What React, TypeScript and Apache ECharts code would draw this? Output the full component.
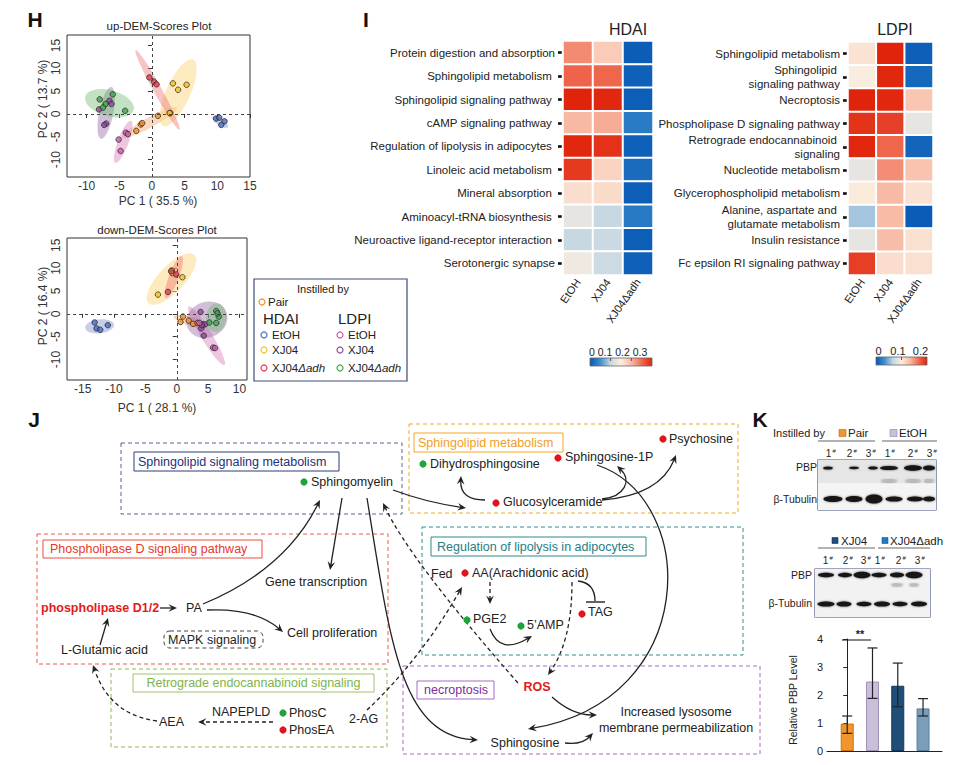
import React, { useEffect, useRef } from 'react';
import * as echarts from 'echarts';

const FONT = '"Liberation Sans", Arial, Helvetica, sans-serif';

// ---------------- Panel H data ----------------
const GROUP_NAMES = ['Pair', 'HDAI EtOH', 'HDAI XJ04', 'HDAI XJ04Δadh', 'LDPI EtOH', 'LDPI XJ04', 'LDPI XJ04Δadh'];
const GROUP_COLORS = ['#F28C28', '#4A6CC0', '#F5C21B', '#E8384F', '#C95BB5', '#8A4A9C', '#3BA54A'];
const ELLIPSE_FILLS = [
  'rgba(247,168,105,0.45)', 'rgba(128,146,206,0.45)', 'rgba(253,214,128,0.5)', 'rgba(238,112,112,0.42)',
  'rgba(214,120,178,0.42)', 'rgba(150,100,165,0.42)', 'rgba(110,185,110,0.42)',
];

// [PC1, PC2, group]
const UP_POINTS = [
  [-2.4, -3.7, 0], [-1.7, -2.3, 0], [-1.5, -2.0, 0], [0.9, -0.4, 0], [2.8, 0.2, 0],
  [9.8, -1.0, 1], [10.3, -0.8, 1], [11.1, -1.6, 1], [10.6, -2.4, 1],
  [3.2, 6.7, 2], [4.0, 5.3, 2], [5.3, 6.4, 2], [2.7, 0.2, 2],
  [-0.4, 8.0, 3], [0.3, 7.1, 3], [0.7, 6.5, 3],
  [-5.1, -5.6, 4], [-4.8, -8.1, 4], [-4.0, -4.1, 4], [-3.7, -4.4, 4],
  [-6.5, 2.9, 5], [-6.2, 2.2, 5], [-8.1, 1.0, 5], [-7.0, -2.1, 5], [-7.3, -2.4, 5],
  [-8.0, 3.2, 6], [-7.1, 2.2, 6], [-6.0, 4.3, 6], [-4.1, 0.7, 6], [-7.5, 1.4, 6],
];
// [x1, y1, x2, y2 (major axis ends), minor/major ratio, group]
const UP_ELLIPSES = [
  [-4.6, -5.2, 3.8, 1.4, 0.16, 0],
  [9.3, -0.6, 11.6, -2.9, 0.38, 1],
  [6.3, 11.9, 1.7, -2.6, 0.33, 2],
  [-2.5, 14.0, 4.2, -3.4, 0.09, 3],
  [-3.2, -1.5, -5.6, -10.7, 0.24, 4],
  [-6.2, 5.9, -7.8, -5.4, 0.27, 5],
  [-10.2, 3.8, -2.8, 0.9, 0.52, 6],
];
const DOWN_POINTS = [
  [-13.1, -1.9, 1], [-12.8, -3.2, 1], [-12.2, -3.5, 1], [-11.0, -2.5, 1],
  [-3.0, 4.2, 2], [-0.8, 9.5, 2], [-0.7, 8.9, 2], [0.9, 8.0, 2],
  [-1.4, 4.8, 3], [-0.1, 8.6, 3], [-0.9, 9.3, 3],
  [1.0, -0.6, 0], [0.6, -1.8, 0], [1.9, -1.5, 0], [2.6, -2.2, 0], [3.3, -2.0, 0], [4.1, -2.3, 0],
  [3.8, 0.4, 5], [3.9, -3.2, 5], [4.3, -4.8, 5], [4.5, -2.3, 5], [4.0, -2.5, 5],
  [5.8, -7.4, 4], [6.1, -7.5, 4], [3.6, -2.0, 4],
  [6.3, 0.6, 6], [6.7, -0.6, 6], [5.2, -1.9, 6], [6.3, -2.0, 6], [6.5, 0.1, 6],
];
const DOWN_ELLIPSES = [
  [-14.6, -3.1, -10.0, -2.4, 0.48, 1],
  [-4.5, 2.3, 2.8, 12.9, 0.39, 2],
  [-1.75, 3.4, 0.8, 12.6, 0.22, 3],
  [-0.5, -0.6, 5.0, -2.8, 0.25, 0],
  [1.9, 1.6, 7.6, -11.2, 0.16, 4],
  [1.7, -3.0, 7.9, 0.4, 0.85, 5],
  [6.5, 2.3, 6.1, -4.0, 0.7, 6],
];
const UP_X_TICKS = [-10, -5, 0, 5, 10, 15];
const UP_Y_TICKS = [-10, -5, 0, 5, 10, 15];
const DOWN_X_TICKS = [-15, -10, -5, 0, 5, 10];
const DOWN_Y_TICKS = [-10, -5, 0, 5, 10, 15];

// ---------------- Panel I data ----------------
const HEAT_GROUPS = ['EtOH', 'XJ04', 'XJ04Δadh'];
const HDAI_PATHWAYS = [
  'Protein digestion and absorption', 'Sphingolipid metabolism ', 'Sphingolipid signaling pathway ',
  'cAMP signaling pathway ', 'Regulation of lipolysis in adipocytes ', 'Linoleic acid metabolism ',
  'Mineral absorption ', 'Aminoacyl-tRNA biosynthesis ', 'Neuroactive ligand-receptor interaction ', 'Serotonergic synapse',
];
const HDAI_VALUES = [
  [0.23, 0.183, 0.005], [0.255, 0.252, 0.008], [0.3, 0.298, 0.006], [0.2, 0.208, 0.032], [0.298, 0.29, 0.008],
  [0.285, 0.175, 0.018], [0.165, 0.168, 0.006], [0.13, 0.1, 0.03], [0.1, 0.103, 0.006], [0.138, 0.104, 0.008],
];
const LDPI_PATHWAYS = [
  'Sphingolipid metabolism', 'Sphingolipid \nsignaling pathway', 'Necroptosis', 'Phospholipase D signaling pathway',
  'Retrograde endocannabinoid \nsignaling', 'Nucleotide metabolism', 'Glycerophospholipid metabolism',
  'Alanine, aspartate and \nglutamate metabolism', 'Insulin resistance', 'Fc epsilon RI signaling pathway',
];
const LDPI_VALUES = [
  [0.107, 0.2, 0.005], [0.098, 0.198, 0.01], [0.2, 0.198, 0.125], [0.193, 0.186, 0.087], [0.198, 0.168, 0.008],
  [0.087, 0.152, 0.127], [0.102, 0.133, 0.108], [0.058, 0.132, 0.003], [0.087, 0.131, 0.109], [0.187, 0.111, 0.109],
];
const HDAI_MAX = 0.3;
const LDPI_MAX = 0.2;
const HEAT_COLORS = ['#0557B3', '#3F8FD0', '#C8D8E3', '#FBEEDF', '#F8B9A4', '#EF6A50', '#E0240B'];

// ---------------- Panel K data ----------------
const BAR_GROUPS = ['Pair', 'EtOH', 'XJ04', 'XJ04Δadh'];
const BAR_MEANS = [0.98, 2.48, 2.33, 1.52];
const BAR_LOW = [0.63, 1.88, 1.58, 1.25];
const BAR_HIGH = [1.25, 3.68, 3.14, 1.87];
const BAR_COLORS = ['#F0962A', '#C9BFD9', '#1F4E79', '#7B9DB9'];
const BAR_BORDERS = ['#C97415', '#9E93B5', '#16395A', '#5A7E9C'];
const BAR_TICKS = [0, 1, 2, 3, 4];

// ---------------- helpers ----------------
type Opt = { size?: number; color?: string; weight?: string; align?: string; rot?: number; style?: string };
function txt(x: number, y: number, text: string, o: Opt = {}): any {
  return {
    type: 'text', x, y, rotation: o.rot || 0, z: 20,
    style: {
      text, fill: o.color || '#222', fontSize: o.size || 12.5, fontFamily: FONT,
      fontWeight: o.weight || 'normal', fontStyle: o.style || 'normal',
      align: o.align || 'left', verticalAlign: 'middle',
    },
  };
}
function italicTail(x: number, y: number, plain: string, ital: string, size: number): any {
  return {
    type: 'text', x, y, z: 20,
    style: {
      text: plain + '{i|' + ital + '}', fill: '#222', fontSize: size, fontFamily: FONT,
      align: 'left', verticalAlign: 'middle',
      rich: { i: { fontStyle: 'italic', fontSize: size, fontFamily: FONT, fill: '#222' } },
    },
  };
}
function rect(x: number, y: number, w: number, h: number, stroke: string, dash = false, fill = 'none', r = 0, lw = 1): any {
  const style: any = { stroke, fill, lineWidth: lw };
  if (dash) style.lineDash = [4, 3];
  return { type: 'rect', z: 5, shape: { x, y, width: w, height: h, r }, style };
}
function dot(x: number, y: number, color: string): any {
  return { type: 'circle', z: 20, shape: { cx: x, cy: y, r: 3.6 }, style: { fill: color } };
}
function arrowHead(ex: number, ey: number, ux: number, uy: number, color: string): any {
  const L = 8.5, W = 3.8;
  const px = -uy, py = ux;
  return {
    type: 'polygon', z: 15,
    shape: {
      points: [
        [ex, ey],
        [ex - ux * L + px * W, ey - uy * L + py * W],
        [ex - ux * L * 0.62, ey - uy * L * 0.62],
        [ex - ux * L - px * W, ey - uy * L - py * W],
      ],
    },
    style: { fill: color },
  };
}
function arrow(p: number[], o: { dash?: boolean; head?: boolean } = {}): any[] {
  const color = '#222';
  const n = p.length;
  const ex = p[n - 2], ey = p[n - 1], fx = p[n - 4], fy = p[n - 3];
  const dx = ex - fx, dy = ey - fy;
  const len = Math.hypot(dx, dy) || 1;
  const ux = dx / len, uy = dy / len;
  const head = o.head !== false;
  const sx = head ? ex - ux * 5 : ex, sy = head ? ey - uy * 5 : ey;
  const style: any = { stroke: color, lineWidth: 1.3, fill: 'none' };
  if (o.dash) style.lineDash = [4, 3];
  let el: any;
  if (n === 4) el = { type: 'line', shape: { x1: p[0], y1: p[1], x2: sx, y2: sy }, style };
  else if (n === 6) el = { type: 'bezierCurve', shape: { x1: p[0], y1: p[1], cpx1: p[2], cpy1: p[3], x2: sx, y2: sy }, style };
  else el = { type: 'bezierCurve', shape: { x1: p[0], y1: p[1], cpx1: p[2], cpy1: p[3], cpx2: p[4], cpy2: p[5], x2: sx, y2: sy }, style };
  el.z = 14;
  const out = [el];
  if (head) out.push(arrowHead(ex, ey, ux, uy, color));
  return out;
}
function band(cx: number, cy: number, rx: number, ry: number, color = '#151515'): any {
  return { type: 'ellipse', z: 8, shape: { cx, cy, rx, ry }, style: { fill: color, shadowBlur: 2, shadowColor: 'rgba(0,0,0,0.6)' } };
}
function lane(x: number, y: number, n: string): any[] {
  return [txt(x - 1.5, y, n, { size: 10, align: 'center' }), txt(x + 2.5, y - 2.5, '#', { size: 6, align: 'left' })];
}
function gradientStops() {
  return HEAT_COLORS.map((c, i) => ({ offset: i / (HEAT_COLORS.length - 1), color: c }));
}

function ellipseRender(params: any, api: any) {
  const p1 = api.coord([api.value(0), api.value(1)]);
  const p2 = api.coord([api.value(2), api.value(3)]);
  const ratio = api.value(4);
  const g = api.value(5);
  const cx = (p1[0] + p2[0]) / 2, cy = (p1[1] + p2[1]) / 2;
  const a = Math.hypot(p2[0] - p1[0], p2[1] - p1[1]) / 2;
  const b = a * ratio;
  const ang = Math.atan2(p2[1] - p1[1], p2[0] - p1[0]);
  const pts: number[][] = [];
  for (let k = 0; k < 64; k++) {
    const t = (k / 64) * Math.PI * 2;
    const ex = a * Math.cos(t), ey = b * Math.sin(t);
    pts.push([cx + ex * Math.cos(ang) - ey * Math.sin(ang), cy + ex * Math.sin(ang) + ey * Math.cos(ang)]);
  }
  return { type: 'polygon', shape: { points: pts }, style: { fill: ELLIPSE_FILLS[g] } };
}

function scatterAxes(gi: number, xmin: number, xmax: number, ymin: number, ymax: number, xt: number[], yt: number[]) {
  const lab = { fontSize: 12, color: '#333', fontFamily: FONT };
  const x = {
    gridIndex: gi, type: 'value', min: xmin, max: xmax,
    axisLine: { show: false }, splitLine: { show: false },
    axisTick: { show: true, length: 4, lineStyle: { color: '#333' }, customValues: xt },
    axisLabel: { ...lab, margin: 3, customValues: xt },
  };
  const y = {
    gridIndex: gi, type: 'value', min: ymin, max: ymax,
    axisLine: { show: false }, splitLine: { show: false },
    axisTick: { show: true, length: 4, lineStyle: { color: '#333' }, customValues: yt },
    axisLabel: { ...lab, margin: 5, rotate: 90, customValues: yt },
  };
  return { x, y };
}

function buildOption() {
  const up = scatterAxes(0, -13, 15, -13.8, 17.3, UP_X_TICKS, UP_Y_TICKS);
  const down = scatterAxes(1, -17.5, 11.2, -14.5, 16.6, DOWN_X_TICKS, DOWN_Y_TICKS);

  const heatX = (gi: number) => ({
    gridIndex: gi, type: 'category', data: HEAT_GROUPS,
    axisLine: { show: false }, axisTick: { show: false }, splitLine: { show: false },
    axisLabel: { rotate: 55, fontSize: 11, color: '#222', margin: 5, interval: 0, fontFamily: FONT },
  });
  const heatY = (gi: number, cats: string[]) => ({
    gridIndex: gi, type: 'category', data: cats, inverse: true,
    axisLine: { show: false }, splitLine: { show: false },
    axisTick: { show: true, alignWithLabel: true, length: 5, lineStyle: { width: 2.6, color: '#111' } },
    axisLabel: { fontSize: 11.5, color: '#222', margin: 8, interval: 0, lineHeight: 14, fontFamily: FONT },
  });

  const zeroLines = {
    silent: true, symbol: ['none', 'none'], label: { show: false },
    lineStyle: { type: [3, 3], color: '#444', width: 1 },
    data: [{ xAxis: 0 }, { yAxis: 0 }],
  };
  const scatterStyle = {
    color: (p: any) => GROUP_COLORS[p.data[2]],
    borderColor: '#222', borderWidth: 0.9,
  };

  const G: any[] = [];
  // ---------- panel labels ----------
  G.push(txt(35, 19, 'H', { size: 21, weight: 'bold', align: 'center', color: '#111' }));
  G.push(txt(366, 19, 'I', { size: 21, weight: 'bold', align: 'center', color: '#111' }));
  G.push(txt(34, 419, 'J', { size: 21, weight: 'bold', align: 'center', color: '#111' }));
  G.push(txt(760, 419, 'K', { size: 21, weight: 'bold', align: 'center', color: '#111' }));

  // ---------- panel H texts ----------
  G.push(txt(159, 26, 'up-DEM-Scores Plot', { size: 11.5, align: 'center' }));
  G.push(txt(157, 230, 'down-DEM-Scores Plot', { size: 11.5, align: 'center' }));
  G.push(txt(158, 201, 'PC 1 ( 35.5 %)', { size: 12, align: 'center', color: '#333' }));
  G.push(txt(157, 408, 'PC 1 ( 28.1 %)', { size: 12, align: 'center', color: '#333' }));
  G.push(txt(43, 99, 'PC 2 ( 13.7 %)', { size: 12, align: 'center', rot: Math.PI / 2, color: '#333' }));
  G.push(txt(43, 306, 'PC 2 ( 16.4 %)', { size: 12, align: 'center', rot: Math.PI / 2, color: '#333' }));
  // legend
  G.push(rect(254, 279, 153, 102, '#3D4A7A', false, '#fff', 0, 1.2));
  G.push(txt(323, 289, 'Instilled by', { size: 11, align: 'center' }));
  const ring = (x: number, y: number, c: string) => ({ type: 'circle', z: 20, shape: { cx: x, cy: y, r: 3 }, style: { fill: 'none', stroke: c, lineWidth: 1.2 } });
  G.push(ring(262, 302, GROUP_COLORS[0]));
  G.push(txt(268, 302, GROUP_NAMES[0], { size: 11.5 }));
  G.push(txt(263, 318, 'HDAI', { size: 15 }));
  G.push(txt(338, 318, 'LDPI', { size: 15 }));
  const legRows = [335, 350, 368];
  const legLabels = ['EtOH', 'XJ04'];
  for (let i = 0; i < 3; i++) {
    G.push(ring(264, legRows[i], GROUP_COLORS[1 + i]));
    G.push(ring(340, legRows[i], GROUP_COLORS[4 + i]));
    if (i < 2) {
      G.push(txt(272, legRows[i], legLabels[i], { size: 11.5 }));
      G.push(txt(348, legRows[i], legLabels[i], { size: 11.5 }));
    } else {
      G.push(italicTail(272, legRows[i], 'XJ04', 'Δadh', 11.5));
      G.push(italicTail(348, legRows[i], 'XJ04', 'Δadh', 11.5));
    }
  }

  // ---------- panel I texts / colorbars ----------
  G.push(txt(628, 29, 'HDAI', { size: 16, align: 'center' }));
  G.push(txt(895, 29, 'LDPI', { size: 16, align: 'center' }));
  G.push({ type: 'rect', z: 5, shape: { x: 590, y: 358, width: 62, height: 8 }, style: { fill: { type: 'linear', x: 0, y: 0, x2: 1, y2: 0, colorStops: gradientStops() }, stroke: '#666', lineWidth: 0.8 } });
  G.push({ type: 'rect', z: 5, shape: { x: 876, y: 357, width: 51, height: 8 }, style: { fill: { type: 'linear', x: 0, y: 0, x2: 1, y2: 0, colorStops: gradientStops() }, stroke: '#666', lineWidth: 0.8 } });
  [0.1, 0.2].forEach((v) => {
    const x = 590 + (v / HDAI_MAX) * 62;
    G.push({ type: 'line', z: 6, shape: { x1: x, y1: 358, x2: x, y2: 361 }, style: { stroke: '#555', lineWidth: 1 } });
  });
  {
    const x = 876 + (0.1 / LDPI_MAX) * 51;
    G.push({ type: 'line', z: 6, shape: { x1: x, y1: 357, x2: x, y2: 360 }, style: { stroke: '#555', lineWidth: 1 } });
  }
  G.push(txt(589, 352, '0 0.1 0.2 0.3', { size: 10.5 }));
  G.push(txt(878.5, 351, '0', { size: 11, align: 'center' }));
  G.push(txt(898, 351, '0.1', { size: 11, align: 'center' }));
  G.push(txt(920.5, 351, '0.2', { size: 11, align: 'center' }));

  // ---------- panel J ----------
  G.push(rect(121, 443, 281, 71, '#5B6496', true));
  G.push(rect(134, 452, 205, 19, '#2E3B7A'));
  G.push(txt(138, 461.5, 'Sphingolipid signaling metabolism', { color: '#22307A' }));
  G.push(rect(409, 424, 329, 89, '#F5A623', true));
  G.push(rect(414, 433, 149, 19, '#F5A623'));
  G.push(txt(418, 442.5, 'Sphingolipid metabolism', { color: '#F39C1E' }));
  G.push(rect(37, 534, 351, 130, '#F05A46', true));
  G.push(rect(43, 540, 219, 18, '#EE4B3B'));
  G.push(txt(50, 549, 'Phospholipase D signaling pathway', { color: '#E8372B' }));
  G.push(rect(422, 527, 321, 128, '#2F8C8F', true));
  G.push(rect(431, 537, 215, 19, '#2F8A8D'));
  G.push(txt(437, 546.5, 'Regulation of lipolysis in adipocytes', { color: '#1D7E86' }));
  G.push(rect(111, 669, 276, 78, '#8CBA4E', true));
  G.push(rect(133, 674, 241, 18, '#9CC46A'));
  G.push(txt(253.5, 683, 'Retrograde endocannabinoid signaling', { color: '#7DB34A', align: 'center' }));
  G.push(rect(403, 666, 357, 88, '#A66BCB', true));
  G.push(rect(417, 681, 77, 18, '#A66BCB'));
  G.push(txt(424, 690, 'necroptosis', { color: '#7C2E9E' }));
  G.push(rect(164, 631, 99, 17, '#444', true, 'none', 6));

  const GREEN = '#1FA43A', RED = '#E0141E';
  G.push(dot(304, 482, GREEN), txt(311, 482, 'Sphingomyelin'));
  G.push(dot(423, 464, GREEN), txt(430, 464, 'Dihydrosphingosine'));
  G.push(dot(558, 458, RED), txt(565, 457, 'Sphingosine-1P'));
  G.push(dot(663, 439, RED), txt(669, 439, 'Psychosine'));
  G.push(dot(496, 503, RED), txt(503, 502, 'Glucosylceramide'));
  G.push(txt(41, 608, 'phospholipase D1/2', { color: '#E31A1C', weight: 'bold' }));
  G.push(txt(186, 608, 'PA'));
  G.push(txt(265, 582, 'Gene transcription'));
  G.push(txt(287, 633, 'Cell proliferation'));
  G.push(txt(168, 640, 'MAPK signaling'));
  G.push(txt(61, 650, 'L-Glutamic acid'));
  G.push(txt(212, 712, 'NAPEPLD'));
  G.push(txt(159, 722, 'AEA'));
  G.push(dot(283, 713, GREEN), txt(289, 713, 'PhosC'));
  G.push(dot(283, 730, RED), txt(289, 730, 'PhosEA'));
  G.push(txt(349, 719, '2-AG'));
  G.push(txt(431, 574, 'Fed'));
  G.push(dot(465, 573, RED), txt(472, 573, 'AA(Arachidonic acid)'));
  G.push(dot(467, 620, GREEN), txt(473, 619, 'PGE2'));
  G.push(dot(521, 626, GREEN), txt(527, 625, '5’AMP'));
  G.push(dot(582, 614, RED), txt(588, 612, 'TAG'));
  G.push(txt(537, 687, 'ROS', { color: '#E31A1C', weight: 'bold', align: 'center' }));
  G.push(txt(676, 712, 'Increased lysosome', { align: 'center' }));
  G.push(txt(676, 728, 'membrane permeabilization', { align: 'center' }));
  G.push(txt(525, 743, 'Sphingosine', { align: 'center' }));

  G.push(...arrow([160, 608, 177, 608]));
  G.push(...arrow([100, 645, 108, 618]));
  G.push(...arrow([203, 604, 285, 570, 320, 500]));
  G.push(...arrow([207, 610, 255, 608, 283, 632]));
  G.push(...arrow([342, 498, 330, 570]));
  G.push(...arrow([393, 490, 425, 502, 466, 508]));
  G.push(...arrow([367, 498, 390, 640, 400, 735, 478, 740]));
  G.push(...arrow([485, 500, 460, 500, 461, 476]));
  G.push(...arrow([602, 499, 625, 497, 632, 480, 617, 466]));
  G.push(...arrow([602, 500, 660, 495, 676, 455]));
  G.push(...arrow([597, 465, 700, 500, 700, 700, 528, 729]));
  G.push(...arrow([490, 629, 500, 655, 532, 636]));
  G.push(...arrow([552, 697, 572, 715, 597, 715]));
  G.push(...arrow([565, 743, 582, 745, 593, 733]));
  G.push(...arrow([157, 721, 110, 715, 93, 665], { dash: true }));
  G.push(...arrow([273, 722, 198, 722], { dash: true }));
  G.push(...arrow([367, 710, 420, 660, 462, 587], { dash: true }));
  G.push(...arrow([518, 683, 410, 560, 383, 503], { dash: true }));
  G.push(...arrow([490, 582, 490, 604], { dash: true }));
  G.push(...arrow([572, 582, 572, 640, 548, 675], { dash: true }));
  G.push(...arrow([578, 581, 595, 583, 595, 601], { head: false }));
  G.push({ type: 'line', z: 14, shape: { x1: 586, y1: 602, x2: 605, y2: 602 }, style: { stroke: '#222', lineWidth: 1.4 } });

  // ---------- panel K ----------
  G.push(txt(773, 433, 'Instilled by', { size: 11 }));
  G.push(rect(839, 429.5, 7, 7, '#B86A10', false, BAR_COLORS[0], 0, 0.6));
  G.push(txt(848, 433, BAR_GROUPS[0], { size: 11.5 }));
  G.push(rect(890, 429.5, 7, 7, '#8E80A8', false, BAR_COLORS[1], 0, 0.6));
  G.push(txt(899, 433, BAR_GROUPS[1], { size: 11.5 }));
  G.push({ type: 'line', shape: { x1: 818, y1: 441, x2: 875, y2: 441 }, style: { stroke: '#9A9A9A', lineWidth: 1.4 } });
  G.push({ type: 'line', shape: { x1: 882, y1: 441, x2: 937, y2: 441 }, style: { stroke: '#9A9A9A', lineWidth: 1.4 } });
  const l1 = [830, 851, 870, 889, 912, 931];
  const l2 = [827, 847, 865, 879, 900, 919];
  ['1', '2', '3', '1', '2', '3'].forEach((n, i) => G.push(...lane(l1[i], 453, n)));
  G.push({ type: 'rect', z: 6, shape: { x: 818, y: 460, width: 118, height: 23 }, style: { fill: '#E6E6E6' } });
  G.push({ type: 'rect', z: 6, shape: { x: 818, y: 483, width: 118, height: 27 }, style: { fill: '#F4F4F4' } });
  G.push(rect(818, 460, 118, 50, '#3D4A7A', false, 'none', 0, 1.1));
  G.push(txt(817, 467, 'PBP', { size: 10.5, align: 'right' }));
  G.push(txt(817, 499, 'β-Tubulin', { size: 10.5, align: 'right' }));
  [[828, 5, 1.6], [854, 5, 1.2], [873, 5, 1.5], [889, 9, 2.1], [913, 9, 2.7], [929, 6, 2.5]].forEach(([x, rx, ry]) => G.push(band(x, 468, rx, ry)));
  [[889, 8], [913, 8], [929, 5]].forEach(([x, rx]) => G.push(band(x, 481, rx, 1, '#bbb')));
  [[833, 9.5, 3], [854, 8.5, 3], [874, 8.5, 4.5], [894, 8.5, 2.6], [915, 8, 2.4], [929, 6, 2.4]].forEach(([x, rx, ry]) => G.push(band(x, 499, rx, ry)));

  G.push(rect(832, 537.5, 6, 6, '#16395A', false, BAR_COLORS[2], 0, 0.6));
  G.push(txt(841, 541, BAR_GROUPS[2], { size: 11.5 }));
  G.push(rect(882, 537.5, 6, 6, '#135E9E', false, '#1E78C2', 0, 0.6));
  G.push(txt(890, 541, BAR_GROUPS[3], { size: 11.5 }));
  G.push({ type: 'line', shape: { x1: 818, y1: 548, x2: 875, y2: 548 }, style: { stroke: '#9A9A9A', lineWidth: 1.4 } });
  G.push({ type: 'line', shape: { x1: 878, y1: 548, x2: 930, y2: 548 }, style: { stroke: '#9A9A9A', lineWidth: 1.4 } });
  ['1', '2', '3', '1', '2', '3'].forEach((n, i) => G.push(...lane(l2[i], 560, n)));
  G.push({ type: 'rect', z: 6, shape: { x: 815, y: 569, width: 115, height: 48 }, style: { fill: '#F2F2F2' } });
  G.push(rect(815, 569, 115, 48, '#3D4A7A', false, 'none', 0, 1.1));
  G.push(txt(812, 575, 'PBP', { size: 10.5, align: 'right' }));
  G.push(txt(812, 603, 'β-Tubulin', { size: 10.5, align: 'right' }));
  [[826, 8, 2.2], [845, 7, 2.2], [862, 8.5, 3.3], [879, 7.5, 2.2], [897, 7, 2.4], [914, 8.5, 3.3]].forEach(([x, rx, ry]) => G.push(band(x, 575, rx, ry)));
  [[897, 6], [914, 5]].forEach(([x, rx]) => G.push(band(x, 585, rx, 0.9, '#bbb')));
  [[826, 8.5, 2.6], [844, 7.5, 2.6], [864, 7.5, 2.3], [882, 8, 2.6], [900, 7.5, 2.2], [919, 8, 2.4]].forEach(([x, rx, ry]) => G.push(band(x, 604, rx, ry)));

  G.push(txt(793, 700, 'Relative PBP Level', { size: 10.5, align: 'center', rot: Math.PI / 2 }));
  G.push(txt(860, 634, '**', { size: 11, align: 'center', weight: 'bold' }));
  G.push({ type: 'line', shape: { x1: 842, y1: 640, x2: 871, y2: 640 }, style: { stroke: '#222', lineWidth: 1.1 } });

  const heatData = (vals: number[][]) => vals.flatMap((row, r) => row.map((v, c) => [c, r, v]));

  return {
    animation: false,
    backgroundColor: '#fff',
    textStyle: { fontFamily: FONT },
    grid: [
      { left: 67, top: 35, width: 183, height: 142, show: true, borderColor: '#333', borderWidth: 1, containLabel: false, outerBoundsMode: 'none' },
      { left: 67, top: 238, width: 180, height: 142, show: true, borderColor: '#333', borderWidth: 1, containLabel: false, outerBoundsMode: 'none' },
      { left: 563, top: 41, width: 90, height: 234, containLabel: false, outerBoundsMode: 'none' },
      { left: 848, top: 42, width: 85, height: 233, containLabel: false, outerBoundsMode: 'none' },
      { left: 827, top: 639, width: 115, height: 112, containLabel: false, outerBoundsMode: 'none' },
    ],
    xAxis: [
      up.x, down.x, heatX(2), heatX(3),
      {
        gridIndex: 4, type: 'value', min: -0.8, max: 3.75,
        axisLine: { show: true, lineStyle: { color: '#222' } }, axisTick: { show: false },
        axisLabel: { show: false }, splitLine: { show: false },
      },
    ],
    yAxis: [
      up.y, down.y, heatY(2, HDAI_PATHWAYS), heatY(3, LDPI_PATHWAYS),
      {
        gridIndex: 4, type: 'value', min: BAR_TICKS[0], max: BAR_TICKS[BAR_TICKS.length - 1], interval: 1,
        axisLine: { show: true, lineStyle: { color: '#222' } },
        axisTick: { show: true, length: 4, lineStyle: { color: '#222' } },
        axisLabel: { fontSize: 11, color: '#222', margin: 4, fontFamily: FONT },
        splitLine: { show: false },
      },
    ],
    visualMap: [
      { show: false, type: 'continuous', seriesIndex: 4, min: 0, max: HDAI_MAX, dimension: 2, inRange: { color: HEAT_COLORS } },
      { show: false, type: 'continuous', seriesIndex: 5, min: 0, max: LDPI_MAX, dimension: 2, inRange: { color: HEAT_COLORS } },
    ],
    series: [
      { type: 'custom', xAxisIndex: 0, yAxisIndex: 0, z: 1, clip: true, renderItem: ellipseRender, data: UP_ELLIPSES, encode: { x: [0, 2], y: [1, 3] }, silent: true },
      { type: 'scatter', xAxisIndex: 0, yAxisIndex: 0, z: 3, symbolSize: 5.5, data: UP_POINTS, itemStyle: scatterStyle, markLine: zeroLines },
      { type: 'custom', xAxisIndex: 1, yAxisIndex: 1, z: 1, clip: true, renderItem: ellipseRender, data: DOWN_ELLIPSES, encode: { x: [0, 2], y: [1, 3] }, silent: true },
      { type: 'scatter', xAxisIndex: 1, yAxisIndex: 1, z: 3, symbolSize: 5.5, data: DOWN_POINTS, itemStyle: scatterStyle, markLine: zeroLines },
      { type: 'heatmap', xAxisIndex: 2, yAxisIndex: 2, data: heatData(HDAI_VALUES), itemStyle: { borderColor: '#fff', borderWidth: 2 } },
      { type: 'heatmap', xAxisIndex: 3, yAxisIndex: 3, data: heatData(LDPI_VALUES), itemStyle: { borderColor: '#fff', borderWidth: 2 } },
      {
        type: 'bar', xAxisIndex: 4, yAxisIndex: 4, barWidth: 13, z: 2,
        data: BAR_MEANS.map((v, i) => ({ value: [i, v], itemStyle: { color: BAR_COLORS[i], borderColor: BAR_BORDERS[i], borderWidth: 1 } })),
      },
      {
        type: 'custom', xAxisIndex: 4, yAxisIndex: 4, z: 4,
        data: BAR_LOW.map((l, i) => [i, l, BAR_HIGH[i]]),
        encode: { x: 0, y: [1, 2] },
        renderItem: (params: any, api: any) => {
          const lo = api.coord([api.value(0), api.value(1)]);
          const hi = api.coord([api.value(0), api.value(2)]);
          const st = { stroke: '#222', lineWidth: 1.2 };
          return {
            type: 'group',
            children: [
              { type: 'line', shape: { x1: lo[0], y1: lo[1], x2: hi[0], y2: hi[1] }, style: st },
              { type: 'line', shape: { x1: lo[0] - 5, y1: lo[1], x2: lo[0] + 5, y2: lo[1] }, style: st },
              { type: 'line', shape: { x1: hi[0] - 5, y1: hi[1], x2: hi[0] + 5, y2: hi[1] }, style: st },
            ],
          };
        },
      },
    ],
    graphic: { elements: G },
  };
}

export default function App() {
  const ref = useRef<HTMLDivElement>(null);
  useEffect(() => {
    if (!ref.current) return;
    const chart = echarts.init(ref.current, undefined, { renderer: 'svg' });
    chart.setOption(buildOption() as any);
    return () => chart.dispose();
  }, []);
  return <div ref={ref} style={{ position: 'absolute', left: 0, top: 0, width: 953, height: 765, background: '#fff' }} />;
}
